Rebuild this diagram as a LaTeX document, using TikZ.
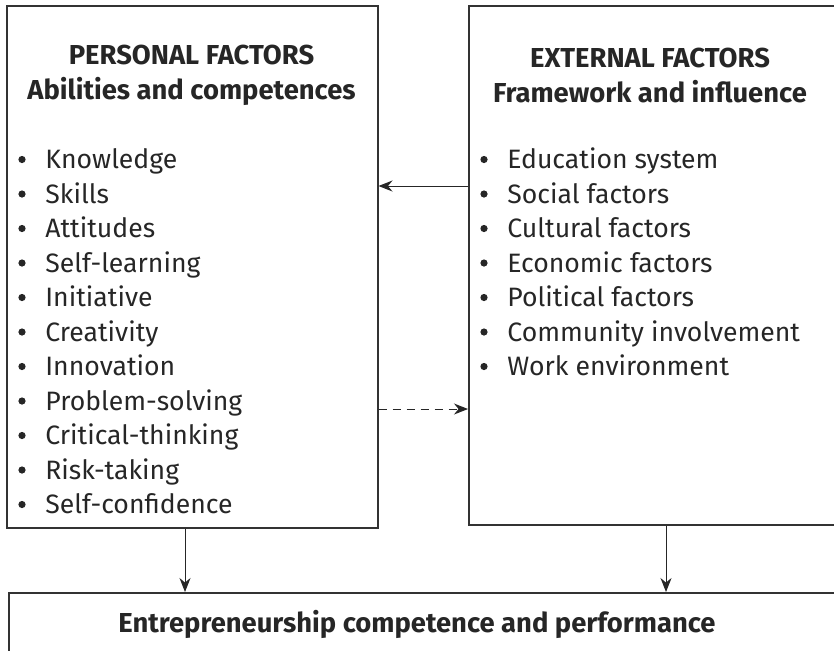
\documentclass[tikz,border=0pt]{standalone}
\usepackage{fontspec}
\setmainfont{Fira Sans}
\usetikzlibrary{arrows.meta}

\tikzset{
  factorbox/.style={draw=black!80, line width=0.75pt, anchor=north west, inner sep=0pt},
  heading/.style={font=\fontsize{13.7}{17.3}\selectfont\bfseries, text=black!85, align=center, inner sep=0pt},
  item/.style={font=\fontsize{13.3}{16}\selectfont, text=black!85, anchor=base west, inner sep=0pt},
  link/.style={-{Stealth[length=7pt,width=5.5pt]}, line width=0.5pt, draw=black!85},
}

\begin{document}
\begin{tikzpicture}[x=0.5pt,y=-0.5pt]
  \clip (0,0) rectangle (834,650);
  % boxes
  \node[factorbox, minimum width=185.5pt, minimum height=261pt] (personal) at (6,5) {};
  \node[factorbox, minimum width=183pt, minimum height=259.5pt] (external) at (468,5) {};
  \node[factorbox, minimum width=420pt, minimum height=60pt] (outcome) at (8,592) {};

  % headings
  \node[heading] (phead) at (191.5,75.5) {PERSONAL FACTORS\\Abilities and competences};
  \node[heading] (ehead) at (650,75.5) {EXTERNAL FACTORS\\Framework and influence};
  \node[heading] (ohead) at (417,624) {Entrepreneurship competence and performance};

  % lists
  \foreach \txt [count=\i] in {Knowledge, Skills, Attitudes, Self-learning, Initiative, Creativity, Innovation, Problem-solving, Critical-thinking, Risk-taking, Self-confidence}{
    \node[item] (p\i) at (45,{168.5+34.5*(\i-1)}) {\txt};
    \fill[black!85] (22,{159.5+34.5*(\i-1)}) circle (3.6);
  }
  \foreach \txt [count=\i] in {Education system, Social factors, Cultural factors, Economic factors, Political factors, Community involvement, Work environment}{
    \node[item] (e\i) at (507,{168.5+34.5*(\i-1)}) {\txt};
    \fill[black!85] (484,{159.5+34.5*(\i-1)}) circle (3.6);
  }

  % arrows
  \coordinate (upper) at (0,186);
  \coordinate (lower) at (0,409);
  \coordinate (leftdown) at (185,0);
  \coordinate (rightdown) at (666,0);
  \draw[link] (external.west |- upper) -- (personal.east |- upper);
  \draw[link, dash pattern=on 4pt off 3pt] (personal.east |- lower) -- (external.west |- lower);
  \draw[link] (personal.south -| leftdown) -- (outcome.north -| leftdown);
  \draw[link] (external.south -| rightdown) -- (outcome.north -| rightdown);
\end{tikzpicture}
\end{document}
